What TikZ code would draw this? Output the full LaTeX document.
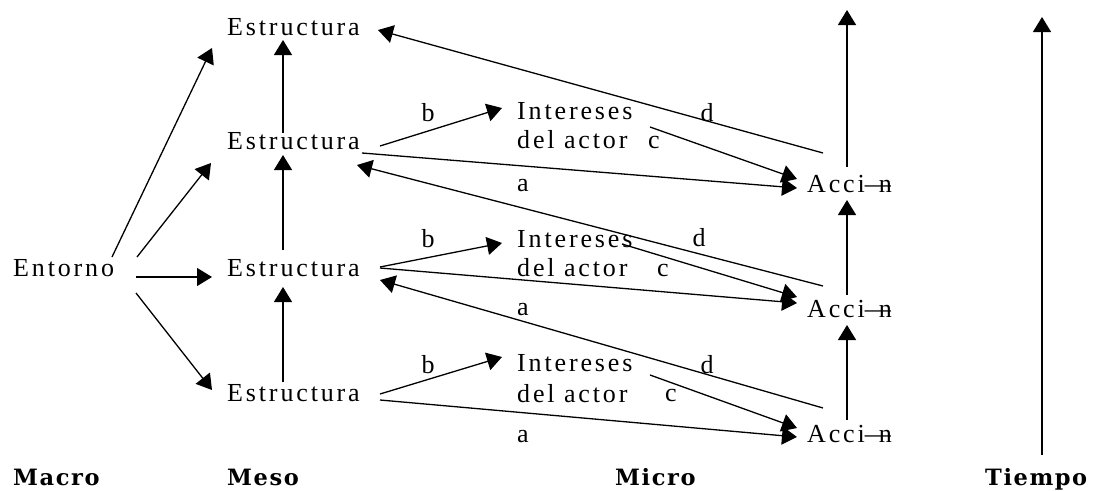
\documentclass[tikz,border=0pt]{standalone}
\usepackage{fontspec}
\setmainfont{Liberation Serif}[LetterSpace=11]
\newfontfamily\labfont{DejaVu Serif}[LetterSpace=7]
\usetikzlibrary{arrows.meta,calc}
\begin{document}
\begin{tikzpicture}[x=1pt,y=-1pt,
  txt/.style={inner sep=0pt, anchor=base west, font=\fontsize{26pt}{30pt}\selectfont},
  lbl/.style={inner sep=0pt, anchor=center, font=\fontsize{26pt}{30pt}\selectfont},
  axislbl/.style={inner sep=0pt, anchor=base west, font=\labfont\bfseries\fontsize{22.5pt}{26pt}\selectfont},
  arr/.style={-{Triangle[length=15pt,width=18pt]}, line width=1.3pt},
  ln/.style={line width=1.3pt}]
\useasboundingbox (0,0) rectangle (1103,490);
\fill[white] (0,0) rectangle (1103,490);
% nodes
\node[txt] (N) at (13,276) {Entorno};
\node[txt] (E1) at (227,35) {Estructura};
\node[txt] (E2) at (227,149) {Estructura};
\node[txt] (E3) at (227,276) {Estructura};
\node[txt] (E4) at (227,401) {Estructura};
\node[txt] (I1) at (517,119) {Intereses};
\node[txt] (I1b) at (517,148) {del actor};
\node[txt] (I2) at (517,247) {Intereses};
\node[txt] (I2b) at (517,276) {del actor};
\node[txt] (I3) at (517,371) {Intereses};
\node[txt] (I3b) at (517,402) {del actor};
\node[txt] (A1) at (807,192) {Acci\makebox[14pt][l]{—}n};
\node[txt] (A2) at (807,317) {Acci\makebox[14pt][l]{—}n};
\node[txt] (A3) at (807,442) {Acci\makebox[14pt][l]{—}n};
\node[axislbl] (Mac) at (13,485) {Macro};
\node[axislbl] (Mes) at (227,485) {Meso};
\node[axislbl] (Mic) at (615,485) {Micro};
\node[axislbl] (Tie) at (985,485) {Tiempo};
\coordinate (T1) at (847,10);
\coordinate (T2) at (1042,17);
% labels
\node[lbl] (b1) at (428,113) {b};
\node[lbl] (d1) at (707,113) {d};
\node[lbl] (c1) at (654,142) {c};
\node[lbl] (a1) at (523,186) {a};
\node[lbl] (b2) at (428,239) {b};
\node[lbl] (d2) at (699,238) {d};
\node[lbl] (c2) at (663,270) {c};
\node[lbl] (a2) at (523,310) {a};
\node[lbl] (b3) at (428,365) {b};
\node[lbl] (d3) at (707,365) {d};
\node[lbl] (c3) at (671,395) {c};
\node[lbl] (a3) at (523,437) {a};
% Entorno arrows
\draw[arr] ($(N.base west)+(99,-19)$) -- ($(E1.base west)+(-15,13)$);
\draw[arr] ($(N.base west)+(124,-19)$) -- ($(E2.base west)+(-16,14)$);
\draw[arr] ($(N.base west)+(123,1)$) -- ($(E3.base west)+(-15,1)$);
\draw[arr] ($(N.base west)+(123,17)$) -- ($(E4.base west)+(-15,-11)$);
% Estructura verticals
\draw[arr] ($(E2.base west)+(56,-16)$) -- ($(E1.base west)+(56,5)$);
\draw[arr] ($(E3.base west)+(56,-26)$) -- ($(E2.base west)+(56,6)$);
\draw[arr] ($(E4.base west)+(56,-19)$) -- ($(E3.base west)+(56,11)$);
% top level
\draw[arr] ($(E2.base west)+(153,-3)$) -- ($(I1.base west)+(-15,-11)$);
\draw[arr] ($(E2.base west)+(135,4)$) -- ($(A1.base west)+(-10,-4)$);
\draw[arr] ($(I1.base west)+(133,8)$) -- ($(A1.base west)+(-10,-13)$);
\draw[arr] ($(A1.base west)+(16,-39)$) -- ($(E1.base west)+(151,-5)$);
% middle level
\draw[arr] ($(E3.base west)+(153,-9)$) -- ($(I2.base west)+(-15,-4)$);
\draw[arr] ($(E3.base west)+(153,-8)$) -- ($(A2.base west)+(-10,-14)$);
\draw[arr] ($(I2.base west)+(105,-3)$) -- ($(A2.base west)+(-10,-20)$);
\draw[arr] ($(A2.base west)+(16,-31)$) -- ($(E2.base west)+(130,16)$);
% bottom level
\draw[arr] ($(E4.base west)+(153,-7)$) -- ($(I3.base west)+(-15,-14)$);
\draw[arr] ($(E4.base west)+(153,-1)$) -- ($(A3.base west)+(-10,-5)$);
\draw[arr] ($(I3.base west)+(133,4)$) -- ($(A3.base west)+(-10,-14)$);
\draw[arr] ($(A3.base west)+(16,-34)$) -- ($(E3.base west)+(153,4)$);
% Accion verticals
\draw[arr] ($(A1.base west)+(40,-25)$) -- (T1);
\draw[arr] ($(A2.base west)+(40,-22)$) -- ($(A1.base west)+(40,8)$);
\draw[arr] ($(A3.base west)+(40,-22)$) -- ($(A2.base west)+(40,8)$);
% Tiempo
\draw[arr] ($(Tie.base west)+(57,-30)$) -- (T2);
\end{tikzpicture}
\end{document}
